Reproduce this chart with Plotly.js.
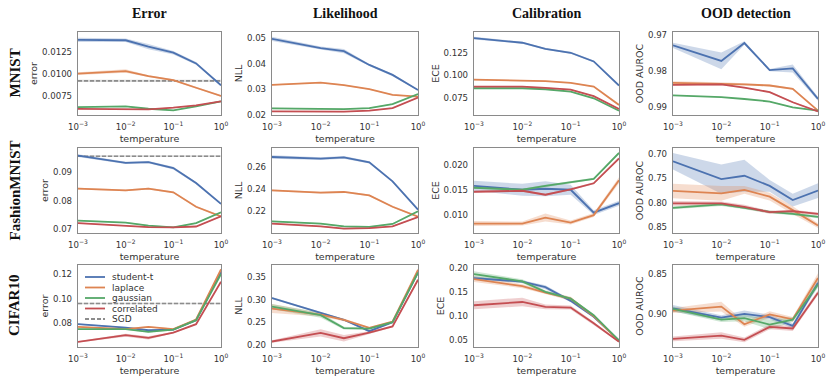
<!DOCTYPE html>
<html><head><meta charset="utf-8">
<script src="https://cdn.plot.ly/plotly-3.0.1.min.js"></script>
<style>html,body{margin:0;padding:0;background:#fff}#chart{width:830px;height:383px}</style>
</head><body><div id="chart"></div>
<script>
// ---------------- data ----------------
const temperature = [0.001, 0.01, 0.03, 0.1, 0.3, 1];
const seriesNames = ['student-t', 'laplace', 'gaussian', 'correlated'];
const baselineName = 'SGD';
const datasets = ['MNIST', 'FashionMNIST', 'CIFAR10'];
const metrics = ['Error', 'Likelihood', 'Calibration', 'OOD detection'];
const metricLabels = ['error', 'NLL', 'ECE', 'OOD AUROC'];
const xTickVals = [0.001, 0.01, 0.1, 1];
const xTickText = ['10<sup>−3</sup>', '10<sup>−2</sup>', '10<sup>−1</sup>', '10<sup>0</sup>'];

// means: [student-t, laplace, gaussian, correlated]; bands: half-width of shaded interval
const mnistError = [
  [0.01384, 0.0138, 0.01307, 0.01239, 0.01117, 0.00868],
  [0.0100, 0.0103, 0.00972, 0.00926, 0.0084, 0.00746],
  [0.0062, 0.00628, 0.00601, 0.00582, 0.00628, 0.00685],
  [0.0060, 0.0060, 0.00594, 0.00613, 0.0064, 0.00685]];
const mnistErrorBand = [
  [0.00025, 0.0002, 0.0003, 0.0002, 0.00015, 0.0001],
  [0.00015, 0.0002, 0.0001, 0.0001, 0.0001, 0.00008],
  [0.00005, 0.00005, 0.00005, 0.00005, 0.00005, 0.00005],
  [0.00005, 0.00005, 0.00005, 0.00005, 0.00005, 0.00005]];
const mnistSGD = [0.00918, 0.00012];

const mnistNLL = [
  [0.0497, 0.0461, 0.0449, 0.0395, 0.0356, 0.0297],
  [0.0317, 0.0326, 0.0316, 0.0300, 0.0278, 0.0271],
  [0.0225, 0.0222, 0.0222, 0.0226, 0.0242, 0.0281],
  [0.0213, 0.0212, 0.0212, 0.0216, 0.0226, 0.0267]];
const mnistNLLBand = [
  [0.0008, 0.0006, 0.0008, 0.0004, 0.0005, 0.0002],
  [0.0002, 0.0002, 0.0002, 0.0002, 0.0002, 0.0002],
  [0.0002, 0.0002, 0.0002, 0.0002, 0.0002, 0.0002],
  [0.0002, 0.0002, 0.0002, 0.0002, 0.0002, 0.0002]];

const mnistECE = [
  [0.1413, 0.1361, 0.1294, 0.1250, 0.1154, 0.0887],
  [0.0952, 0.0941, 0.0937, 0.0917, 0.0876, 0.0672],
  [0.0857, 0.0857, 0.0846, 0.0820, 0.0746, 0.0609],
  [0.0876, 0.0876, 0.0861, 0.0843, 0.0769, 0.0628]];
const mnistECEBand = [
  [0.0015, 0.001, 0.001, 0.001, 0.001, 0.0008],
  [0.0008, 0.0008, 0.0006, 0.0005, 0.0005, 0.0005],
  [0.0005, 0.0005, 0.0005, 0.0005, 0.0005, 0.0005],
  [0.0005, 0.0005, 0.0005, 0.0005, 0.0005, 0.0005]];

const mnistOOD = [
  [0.97298, 0.97726, 0.97233, 0.97977, 0.9793, 0.98767],
  [0.9833, 0.9835, 0.9837, 0.9840, 0.9849, 0.9909],
  [0.9867, 0.9872, 0.9877, 0.9884, 0.9900, 0.9909],
  [0.9838, 0.9837, 0.9846, 0.9858, 0.9886, 0.9911]];
const mnistOODBand = [
  [0.0007, 0.0023, 0.0005, 0.0003, 0.0011, 0.0005],
  [0.0005, 0.0004, 0.0003, 0.0003, 0.0002, 0.0002],
  [0.0001, 0.0001, 0.0001, 0.0001, 0.0001, 0.0001],
  [0.0002, 0.0002, 0.0002, 0.0002, 0.0002, 0.0002]];

const fashionError = [
  [0.0959, 0.0933, 0.0936, 0.0915, 0.0862, 0.0788],
  [0.0842, 0.0836, 0.0842, 0.0829, 0.0778, 0.0744],
  [0.0729, 0.0722, 0.0711, 0.0705, 0.0720, 0.0758],
  [0.0720, 0.0712, 0.0706, 0.0705, 0.0708, 0.0744]];
const fashionErrorBand = [
  [0.0005, 0.0004, 0.0004, 0.0005, 0.0004, 0.0003],
  [0.0003, 0.0003, 0.0003, 0.0003, 0.0003, 0.0003],
  [0.0002, 0.0002, 0.0002, 0.0002, 0.0002, 0.0002],
  [0.0002, 0.0002, 0.0002, 0.0002, 0.0002, 0.0002]];
const fashionSGD = [0.0957, 0.0003];

const fashionNLL = [
  [0.2694, 0.2679, 0.2691, 0.2645, 0.2473, 0.2215],
  [0.2391, 0.2370, 0.2376, 0.2345, 0.2242, 0.2152],
  [0.2109, 0.2088, 0.2064, 0.2058, 0.2085, 0.2200],
  [0.2088, 0.2064, 0.2042, 0.2048, 0.2064, 0.2148]];
const fashionNLLBand = [
  [0.0015, 0.0012, 0.0012, 0.001, 0.0008, 0.0006],
  [0.0008, 0.0008, 0.0008, 0.0008, 0.0008, 0.0008],
  [0.0006, 0.0006, 0.0006, 0.0006, 0.0006, 0.0006],
  [0.0006, 0.0006, 0.0006, 0.0006, 0.0006, 0.0006]];

const fashionECE = [
  [0.0159, 0.0151, 0.0153, 0.0151, 0.0105, 0.0124],
  [0.0083, 0.0083, 0.0095, 0.0085, 0.0100, 0.0170],
  [0.0155, 0.0151, 0.0159, 0.0166, 0.0173, 0.0225],
  [0.0147, 0.0149, 0.0141, 0.0152, 0.0164, 0.0214]];
const fashionECEBand = [
  [0.001, 0.0012, 0.0015, 0.001, 0.0005, 0.0005],
  [0.0005, 0.0004, 0.0008, 0.0004, 0.0004, 0.0006],
  [0.0002, 0.0002, 0.0002, 0.0002, 0.0002, 0.0002],
  [0.0002, 0.0002, 0.0002, 0.0002, 0.0002, 0.0002]];

const fashionOOD = [
  [0.7152, 0.7519, 0.7450, 0.7657, 0.7948, 0.7754],
  [0.7761, 0.7810, 0.7740, 0.7878, 0.8155, 0.8472],
  [0.8107, 0.8038, 0.8107, 0.8190, 0.8231, 0.8293],
  [0.8017, 0.8017, 0.8086, 0.8197, 0.8176, 0.8231]];
const fashionOODBand = [
  [0.017, 0.030, 0.033, 0.012, 0.013, 0.015],
  [0.015, 0.015, 0.008, 0.008, 0.008, 0.005],
  [0.003, 0.003, 0.003, 0.003, 0.003, 0.003],
  [0.005, 0.004, 0.004, 0.003, 0.003, 0.003]];

const cifarError = [
  [0.0789, 0.0761, 0.0739, 0.0745, 0.0822, 0.1222],
  [0.0767, 0.0748, 0.0767, 0.0748, 0.0828, 0.1241],
  [0.0748, 0.0748, 0.0726, 0.0745, 0.0822, 0.1203],
  [0.0643, 0.0698, 0.0676, 0.0720, 0.0789, 0.1139]];
const cifarErrorBand = [
  [0.0005, 0.0005, 0.0005, 0.0005, 0.0005, 0.0005],
  [0.0005, 0.0005, 0.0005, 0.0005, 0.0005, 0.0008],
  [0.0005, 0.0005, 0.0005, 0.0005, 0.0005, 0.0005],
  [0.0005, 0.0012, 0.0014, 0.0006, 0.0005, 0.0005]];
const cifarSGD = [0.0959, 0.0006];

const cifarNLL = [
  [0.3036, 0.2712, 0.2553, 0.2301, 0.2500, 0.3600],
  [0.2802, 0.2665, 0.2549, 0.2373, 0.2514, 0.3659],
  [0.2844, 0.2657, 0.2370, 0.2356, 0.2500, 0.3603],
  [0.2072, 0.2262, 0.2144, 0.2270, 0.2407, 0.3439]];
const cifarNLLBand = [
  [0.002, 0.002, 0.002, 0.002, 0.002, 0.002],
  [0.010, 0.004, 0.003, 0.002, 0.002, 0.003],
  [0.006, 0.006, 0.003, 0.002, 0.002, 0.003],
  [0.003, 0.008, 0.007, 0.003, 0.002, 0.002]];

const cifarECE = [
  [0.1785, 0.1711, 0.1597, 0.1315, 0.0987, 0.0500],
  [0.1764, 0.1617, 0.1487, 0.1360, 0.1000, 0.0487],
  [0.1865, 0.1718, 0.1500, 0.1360, 0.1020, 0.0500],
  [0.1225, 0.1292, 0.1191, 0.1178, 0.0855, 0.0473]];
const cifarECEBand = [
  [0.003, 0.003, 0.004, 0.003, 0.002, 0.001],
  [0.006, 0.004, 0.003, 0.004, 0.002, 0.001],
  [0.006, 0.004, 0.003, 0.003, 0.002, 0.001],
  [0.008, 0.009, 0.005, 0.004, 0.003, 0.001]];

const cifarOOD = [
  [0.8924, 0.9040, 0.8992, 0.9032, 0.9140, 0.8612],
  [0.8952, 0.8904, 0.9120, 0.9000, 0.9060, 0.8552],
  [0.8932, 0.9064, 0.9044, 0.9124, 0.9064, 0.8632],
  [0.9300, 0.9260, 0.9312, 0.9152, 0.9172, 0.8732]];
const cifarOODBand = [
  [0.004, 0.003, 0.004, 0.003, 0.003, 0.004],
  [0.003, 0.006, 0.003, 0.004, 0.003, 0.006],
  [0.003, 0.003, 0.004, 0.006, 0.003, 0.004],
  [0.003, 0.004, 0.003, 0.003, 0.003, 0.003]];

// y tick labels per panel (row-major)
const yTicks = [
  ['0.0075', '0.0100', '0.0125'], ['0.02', '0.03', '0.04', '0.05'], ['0.075', '0.100', '0.125'], ['0.97', '0.98', '0.99'],
  ['0.07', '0.08', '0.09'], ['0.22', '0.24', '0.26'], ['0.010', '0.015', '0.020'], ['0.70', '0.75', '0.80', '0.85'],
  ['0.08', '0.10', '0.12'], ['0.20', '0.25', '0.30', '0.35'], ['0.05', '0.10', '0.15', '0.20'], ['0.85', '0.90']];

// ---------------- presentation ----------------
const colors = ['#4C72B0', '#DD8452', '#55A868', '#C44E52'];
const bandColors = ['rgba(76,114,176,0.28)', 'rgba(221,132,82,0.28)', 'rgba(85,168,104,0.28)', 'rgba(196,78,82,0.28)'];
const W = 830, H = 383;
const colPx = [[78, 221], [272, 418], [474, 619], [673, 818]];
const rowPx = [[32, 115], [148, 233], [265, 347]];
const yRanges = [
  [0.0053, 0.01474], [0.0199, 0.0524], [0.0561, 0.148], [0.9921, 0.9693],
  [0.0685, 0.0986], [0.2003, 0.2776], [0.0064, 0.0235], [0.8624, 0.688],
  [0.0601, 0.1277], [0.195, 0.3767], [0.0365, 0.2054], [0.94, 0.8392]];
const panelMeans = [mnistError, mnistNLL, mnistECE, mnistOOD, fashionError, fashionNLL, fashionECE, fashionOOD, cifarError, cifarNLL, cifarECE, cifarOOD];
const panelBands = [mnistErrorBand, mnistNLLBand, mnistECEBand, mnistOODBand, fashionErrorBand, fashionNLLBand, fashionECEBand, fashionOODBand, cifarErrorBand, cifarNLLBand, cifarECEBand, cifarOODBand];
const panelSGD = {0: mnistSGD, 4: fashionSGD, 8: cifarSGD};

const tickFont = {family: 'DejaVu Sans', size: 8.6, color: '#333'};
const titleFont = {family: 'DejaVu Sans', size: 9.5, color: '#333'};
const frameColor = '#8a8a8a';

const traces = [];
const layout = {
  width: W, height: H, margin: {l: 0, r: 0, t: 0, b: 0},
  paper_bgcolor: '#fff', plot_bgcolor: '#fff', showlegend: false,
  annotations: [], shapes: []
};

for (let r = 0; r < 3; r++) {
  for (let c = 0; c < 4; c++) {
    const p = r * 4 + c;
    const n = p + 1;
    const xa = n === 1 ? 'x' : 'x' + n;
    const ya = n === 1 ? 'y' : 'y' + n;
    const means = panelMeans[p], bands = panelBands[p];
    const xRev = temperature.slice().reverse();
    if (panelSGD[p]) {
      const [m, e] = panelSGD[p];
      const xs = [temperature[0], temperature[temperature.length - 1]];
      traces.push({x: xs.concat(xs.slice().reverse()), y: [m + e, m + e, m - e, m - e], xaxis: xa, yaxis: ya,
        mode: 'lines', fill: 'toself', fillcolor: 'rgba(130,130,130,0.3)', line: {width: 0}, hoverinfo: 'skip'});
      traces.push({x: xs, y: [m, m], xaxis: xa, yaxis: ya, mode: 'lines', name: baselineName,
        line: {color: '#8c8c8c', width: 1.6, dash: '4px,2px'}});
    }
    for (let s = 0; s < 4; s++) {
      const upper = means[s].map((v, i) => v + bands[s][i]);
      const lower = means[s].map((v, i) => v - bands[s][i]).reverse();
      traces.push({x: temperature.concat(xRev), y: upper.concat(lower), xaxis: xa, yaxis: ya,
        mode: 'lines', fill: 'toself', fillcolor: bandColors[s], line: {width: 0}, hoverinfo: 'skip'});
    }
    for (let s = 0; s < 4; s++) {
      traces.push({x: temperature, y: means[s], xaxis: xa, yaxis: ya, mode: 'lines', name: seriesNames[s],
        line: {color: colors[s], width: 1.8}});
    }
    const axCommon = {showline: true, mirror: true, linecolor: frameColor, linewidth: 1.2,
      showgrid: false, zeroline: false, ticks: 'outside', ticklen: 3, tickcolor: 'rgba(0,0,0,0)',
      tickfont: tickFont};
    layout['xaxis' + (n === 1 ? '' : n)] = Object.assign({}, axCommon, {
      domain: [colPx[c][0] / W, colPx[c][1] / W], anchor: ya, type: 'log', range: [-3, 0],
      tickmode: 'array', tickvals: xTickVals, ticktext: xTickText,
      title: {text: 'temperature', font: titleFont, standoff: 4}
    });
    layout['yaxis' + (n === 1 ? '' : n)] = Object.assign({}, axCommon, {
      domain: [1 - rowPx[r][1] / H, 1 - rowPx[r][0] / H], anchor: xa, range: yRanges[p],
      tickmode: 'array', tickvals: yTicks[p].map(Number), ticktext: yTicks[p],
      title: {text: metricLabels[c], font: titleFont, standoff: 2}
    });
  }
}

// column titles
metrics.forEach((t, c) => {
  layout.annotations.push({text: '<b>' + t + '</b>', xref: 'paper', yref: 'paper',
    x: (colPx[c][0] + colPx[c][1]) / 2 / W, y: 1 - 13 / H, xanchor: 'center', yanchor: 'middle',
    showarrow: false, font: {family: 'Liberation Serif', size: 14, color: '#111'}});
});
// row labels
datasets.forEach((t, r) => {
  layout.annotations.push({text: '<b>' + t + '</b>', xref: 'paper', yref: 'paper',
    x: 14 / W, y: 1 - (rowPx[r][0] + rowPx[r][1]) / 2 / H, xanchor: 'center', yanchor: 'middle',
    textangle: -90, showarrow: false, font: {family: 'Liberation Serif', size: 15, color: '#111'}});
});
// legend (drawn inside CIFAR10 error panel)
const legendNames = seriesNames.concat([baselineName]);
const legendColors = colors.concat(['#8c8c8c']);
legendNames.forEach((name, i) => {
  const ypx = 277 + i * 10.5;
  layout.shapes.push({type: 'line', xref: 'paper', yref: 'paper', x0: 85 / W, x1: 105 / W,
    y0: 1 - ypx / H, y1: 1 - ypx / H,
    line: {color: legendColors[i], width: 1.8, dash: i === 4 ? '4px,2px' : 'solid'}});
  layout.annotations.push({text: name, xref: 'paper', yref: 'paper', x: 110 / W, y: 1 - ypx / H,
    xanchor: 'left', yanchor: 'middle', showarrow: false,
    font: {family: 'DejaVu Sans', size: 9, color: '#333'}});
});

Plotly.newPlot('chart', traces, layout, {staticPlot: true, displayModeBar: false});
</script></body></html>
